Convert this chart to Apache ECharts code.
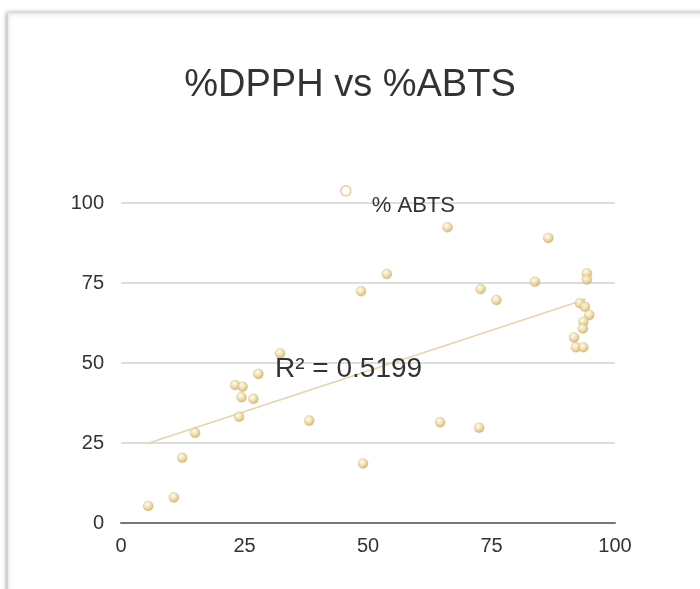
<!DOCTYPE html>
<html>
<head>
<meta charset="utf-8">
<script src="https://cdn.jsdelivr.net/npm/echarts@6.0.0/dist/echarts.min.js"></script>
<style>
  html, body { margin: 0; padding: 0; background: #fff; }
  #main { width: 700px; height: 589px; }
</style>
</head>
<body>
<div id="main"></div>
<script>
// %DPPH (x) vs %ABTS (y)
var dpph = [5.5, 10.7, 12.4, 15.0, 23.1, 24.6, 24.4, 26.8, 23.9, 27.8, 32.2, 38.1,
            48.6, 49.0, 53.8, 64.6, 66.1, 72.5, 72.8, 76.0, 83.8, 86.5,
            94.3, 94.3, 92.9, 93.9, 94.8, 93.6, 93.5, 91.7, 92.1, 93.6];
var abts = [5.3, 8.0, 20.4, 28.2, 43.1, 42.6, 39.3, 38.8, 33.2, 46.6, 53.0, 32.0,
            72.4, 18.6, 77.8, 31.5, 92.4, 29.8, 73.1, 69.7, 75.4, 89.1,
            78.0, 76.1, 68.7, 67.6, 65.0, 62.9, 60.8, 58.0, 54.9, 54.9];
// linear trendline end points as drawn
var trendX = [5.5, 94.1];
var trendY = [24.9, 69.9];
var xTicks = [0, 25, 50, 75, 100];
var yTicks = [0, 25, 50, 75, 100];
var seriesName = '% ABTS';
var rSquared = 'R² = 0.5199';

var points = dpph.map(function (x, i) { return [x, abts[i]]; });
var trend = trendX.map(function (x, i) { return [x, trendY[i]]; });

var chart = echarts.init(document.getElementById('main'));

var ball = new echarts.graphic.RadialGradient(0.4, 0.35, 0.7, [
    { offset: 0, color: '#fffaf0' },
    { offset: 0.45, color: '#efd9a0' },
    { offset: 1, color: '#c2a050' }
]);

var option = {
    backgroundColor: '#fff',
    animation: false,
    textStyle: { fontFamily: 'Liberation Sans, Arial, sans-serif' },
    graphic: [
        {
            type: 'rect',
            z: -10,
            shape: { x: 8, y: 13, width: 720, height: 600 },
            style: {
                fill: '#fff',
                stroke: '#e4e4e4',
                lineWidth: 1,
                shadowBlur: 4,
                shadowOffsetX: -1,
                shadowColor: 'rgba(0,0,0,0.35)'
            }
        },
        {
            type: 'text',
            z: 10,
            x: 275,
            y: 369,
            style: {
                text: rSquared,
                fill: '#333',
                font: '28px "Liberation Sans", Arial, sans-serif',
                verticalAlign: 'middle'
            }
        }
    ],
    title: {
        text: '%DPPH vs %ABTS',
        left: 'center',
        top: 62,
        textStyle: { fontSize: 38, fontWeight: 'normal', color: '#333' }
    },
    legend: {
        left: 340,
        top: 185,
        padding: 0,
        itemWidth: 10,
        itemHeight: 10,
        data: [{
            name: seriesName,
            icon: 'circle',
            itemStyle: { color: '#fff', borderColor: '#e2c47a', borderWidth: 1.6 }
        }],
        formatter: '{t|{name}}',
        textStyle: {
            color: '#333',
            rich: { t: { fontSize: 22, color: '#333', padding: [31, 0, 0, 16] } }
        }
    },
    grid: { left: 121, right: 85, top: 203, bottom: 66, containLabel: false },
    xAxis: {
        type: 'value',
        min: xTicks[0],
        max: xTicks[xTicks.length - 1],
        interval: 25,
        axisLine: { show: true, onZero: false, lineStyle: { color: '#777', width: 2 } },
        axisTick: { show: false },
        splitLine: { show: false },
        axisLabel: { fontSize: 20, color: '#333', margin: 13 }
    },
    yAxis: {
        type: 'value',
        min: yTicks[0],
        max: yTicks[yTicks.length - 1],
        interval: 25,
        axisLine: { show: false },
        axisTick: { show: false },
        splitLine: { show: true, lineStyle: { color: '#d2d2d2', width: 1.5 } },
        axisLabel: { fontSize: 20, color: '#333', margin: 17 }
    },
    series: [
        {
            name: 'trend',
            type: 'line',
            data: trend,
            symbol: 'none',
            z: 1,
            silent: true,
            lineStyle: { color: '#e8d5a6', width: 1.6 }
        },
        {
            name: seriesName,
            type: 'scatter',
            data: points,
            symbolSize: 10,
            z: 3,
            itemStyle: { color: ball, borderColor: 'rgba(190,160,90,0.6)', borderWidth: 0.5 }
        }
    ]
};

chart.setOption(option);
</script>
</body>
</html>
